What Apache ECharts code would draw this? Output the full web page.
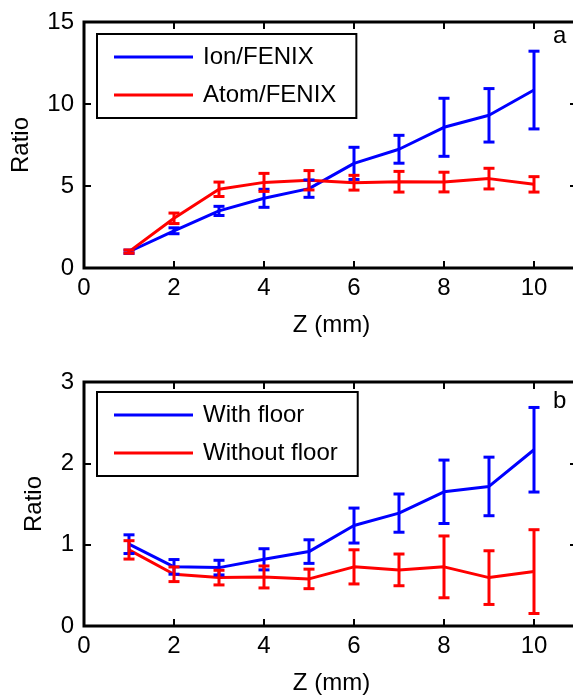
<!DOCTYPE html>
<html><head><meta charset="utf-8">
<script src="https://cdn.jsdelivr.net/npm/echarts@6/dist/echarts.min.js"></script>
<style>html,body{margin:0;padding:0;background:#fff}#c{width:573px;height:698px}</style>
</head><body><div id="c"></div>
<script>
const zValues = [1, 2, 3, 4, 5, 6, 7, 8, 9, 10];
const ionRatio = [0.99, 2.27, 3.48, 4.25, 4.84, 6.38, 7.24, 8.58, 9.31, 10.85];
const ionErr = [0.1, 0.18, 0.28, 0.55, 0.53, 0.98, 0.85, 1.77, 1.63, 2.37];
const atomRatio = [1.0, 3.03, 4.80, 5.22, 5.35, 5.20, 5.26, 5.24, 5.45, 5.10];
const atomErr = [0.1, 0.32, 0.44, 0.55, 0.59, 0.45, 0.63, 0.6, 0.63, 0.47];
const withFloor = [1.006, 0.727, 0.718, 0.82, 0.915, 1.235, 1.388, 1.65, 1.716, 2.167];
const withFloorErr = [0.115, 0.09, 0.09, 0.13, 0.145, 0.215, 0.235, 0.39, 0.36, 0.52];
const withoutFloor = [0.936, 0.636, 0.595, 0.603, 0.579, 0.727, 0.69, 0.727, 0.595, 0.669];
const withoutFloorErr = [0.113, 0.09, 0.09, 0.135, 0.12, 0.21, 0.195, 0.38, 0.33, 0.515];
const seriesNamesA = ['Ion/FENIX', 'Atom/FENIX'];
const seriesNamesB = ['With floor', 'Without floor'];
const xName = 'Z (mm)';
const yName = 'Ratio';
const panelLabels = ['a', 'b'];

const FONT = "'Liberation Sans', Arial, sans-serif";
const FS = 24;
const BLUE = '#0000ff', RED = '#ff0000';

const chart = echarts.init(document.getElementById('c'), null, {renderer: 'canvas'});

function pts(ys) { return zValues.map((z, i) => [z, ys[i]]); }
function errs(ys, es) { return zValues.map((z, i) => [z, ys[i] - es[i], ys[i] + es[i]]); }

function errRenderItem(params, api) {
  const x = api.value(0), lo = api.value(1), hi = api.value(2);
  const pLo = api.coord([x, lo]), pHi = api.coord([x, hi]);
  const hw = 5.5;
  const style = {stroke: api.visual('color'), lineWidth: 3, fill: null};
  return {type: 'group', children: [
    {type: 'line', shape: {x1: pLo[0], y1: pLo[1], x2: pHi[0], y2: pHi[1]}, style: style},
    {type: 'line', shape: {x1: pLo[0] - hw, y1: pLo[1], x2: pLo[0] + hw, y2: pLo[1]}, style: style},
    {type: 'line', shape: {x1: pHi[0] - hw, y1: pHi[1], x2: pHi[0] + hw, y2: pHi[1]}, style: style}
  ]};
}

const tickStyle = {inside: true, length: 7, lineStyle: {color: '#000', width: 2}};
const rightTickStyle = {inside: true, length: 9, lineStyle: {color: '#000', width: 2}};
const labelText = {fontSize: FS, color: '#000', fontFamily: FONT};
const hiddenLine = {show: false, onZero: false};

function xAxes(grid) {
  return [
    {type: 'value', gridIndex: grid, position: 'bottom', min: 0, max: 11, interval: 2,
     axisLine: hiddenLine, axisTick: tickStyle, splitLine: {show: false},
     axisLabel: Object.assign({margin: 8, showMaxLabel: false}, labelText),
     name: xName, nameLocation: 'middle', nameGap: 45, nameTextStyle: labelText},
    {type: 'value', gridIndex: grid, position: 'top', min: 0, max: 11, interval: 2,
     axisLine: hiddenLine, axisTick: tickStyle, splitLine: {show: false},
     axisLabel: {show: false}}
  ];
}
function yAxes(grid, max, interval, gap) {
  return [
    {type: 'value', gridIndex: grid, position: 'left', min: 0, max: max, interval: interval,
     axisLine: hiddenLine, axisTick: tickStyle, splitLine: {show: false},
     axisLabel: Object.assign({margin: 10}, labelText),
     name: yName, nameLocation: 'middle', nameGap: gap, nameRotate: 90, nameTextStyle: labelText},
    {type: 'value', gridIndex: grid, position: 'right', min: 0, max: max, interval: interval,
     axisLine: hiddenLine, axisTick: rightTickStyle, splitLine: {show: false},
     axisLabel: {show: false}}
  ];
}

function lineSeries(name, ys, color, xi, yi) {
  return {type: 'line', name: name, data: pts(ys), xAxisIndex: xi, yAxisIndex: yi,
    symbol: 'none', lineStyle: {color: color, width: 3}, itemStyle: {color: color}, z: 3};
}
function errSeries(ys, es, color, xi, yi) {
  return {type: 'custom', data: errs(ys, es), xAxisIndex: xi, yAxisIndex: yi,
    renderItem: errRenderItem, itemStyle: {color: color}, encode: {x: 0, y: [1, 2]}, z: 4};
}

function legendFor(names, top) {
  return {data: names, orient: 'vertical', left: 97, top: top,
    itemWidth: 79, itemHeight: 3, icon: 'rect', itemGap: 14,
    padding: [11, 20, 11, 17], borderColor: '#000', borderWidth: 2,
    backgroundColor: '#fff', selectedMode: false,
    textStyle: {fontSize: FS, lineHeight: 24, color: '#000', fontFamily: FONT, padding: [0, 0, 0, 5]}};
}

const option = {
  animation: false,
  backgroundColor: '#fff',
  grid: [
    {left: 84, top: 22, width: 495, height: 246, show: true, borderColor: '#000', borderWidth: 3,
     backgroundColor: 'transparent', outerBoundsMode: 'none', containLabel: false},
    {left: 84, top: 382, width: 495, height: 244, show: true, borderColor: '#000', borderWidth: 3,
     backgroundColor: 'transparent', outerBoundsMode: 'none', containLabel: false}
  ],
  xAxis: xAxes(0).concat(xAxes(1)),
  yAxis: yAxes(0, 15, 5, 51).concat(yAxes(1, 3, 1, 38)),
  legend: [legendFor(seriesNamesA, 34), legendFor(seriesNamesB, 392)],
  graphic: [
    {type: 'text', left: 553, top: 24, style: {text: panelLabels[0], font: FS + 'px ' + FONT, fill: '#000'}},
    {type: 'text', left: 553, top: 389, style: {text: panelLabels[1], font: FS + 'px ' + FONT, fill: '#000'}}
  ],
  series: [
    lineSeries(seriesNamesA[0], ionRatio, BLUE, 0, 0),
    errSeries(ionRatio, ionErr, BLUE, 0, 0),
    lineSeries(seriesNamesA[1], atomRatio, RED, 0, 0),
    errSeries(atomRatio, atomErr, RED, 0, 0),
    lineSeries(seriesNamesB[0], withFloor, BLUE, 2, 2),
    errSeries(withFloor, withFloorErr, BLUE, 2, 2),
    lineSeries(seriesNamesB[1], withoutFloor, RED, 2, 2),
    errSeries(withoutFloor, withoutFloorErr, RED, 2, 2)
  ]
};
chart.setOption(option);
</script>
</body></html>
